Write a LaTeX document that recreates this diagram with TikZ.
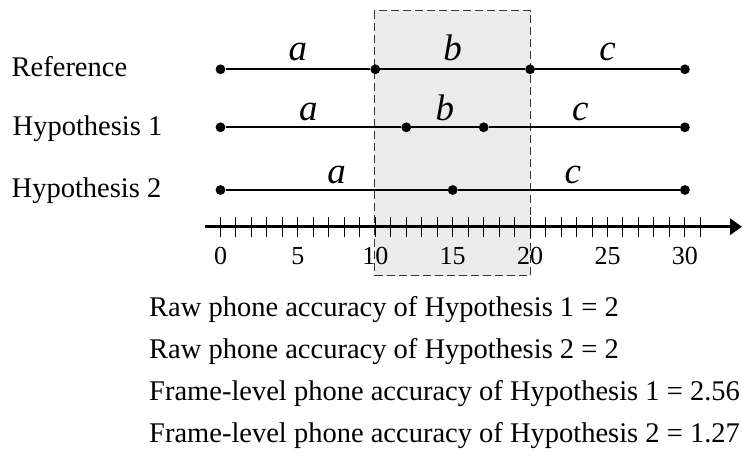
\documentclass[tikz,border=0pt]{standalone}
\usepackage{fontspec}
\setmainfont{Liberation Serif}
\usetikzlibrary{arrows.meta,calc}
\begin{document}
\begin{tikzpicture}[x=1pt,y=-1pt,
  dot/.style={circle,fill=black,inner sep=0pt,minimum size=9.8pt},
  seg/.style={line width=2.2pt},
  rowlab/.style={anchor=base west,inner sep=0pt,font=\fontsize{28.5}{34}\selectfont},
  seglab/.style={anchor=base,inner sep=0pt,font=\fontsize{37}{44}\selectfont\itshape},
  ticklab/.style={anchor=base,inner sep=0pt,font=\fontsize{26}{31}\selectfont},
  acc/.style={anchor=base west,inner sep=0pt,font=\fontsize{28.5}{34}\selectfont},
  tickmark/.style={line width=1pt},
  axisline/.style={line width=3pt,-{Triangle[length=12pt,width=16pt]}},
  region/.style={draw=black!80,fill=black!8,dash pattern=on 8pt off 4pt,line width=1.1pt}
]
\useasboundingbox (0,0) rectangle (742,463);
% shaded region
\node[region,minimum width=155.5pt,minimum height=265pt,inner sep=0pt,anchor=north west] (box) at (374,10) {};
% row labels
\node[rowlab] (lref) at (11.5,76.5) {Reference};
\node[rowlab] (lh1) at (12.5,135.5) {Hypothesis 1};
\node[rowlab] (lh2) at (11.5,197) {Hypothesis 2};
% reference row
\node[dot] (r0) at ({220.5+15.48*0},69.3) {};
\node[dot] (r1) at ({220.5+15.48*10},69.3) {};
\node[dot] (r2) at ({220.5+15.48*20},69.3) {};
\node[dot] (r3) at ({220.5+15.48*30},69.3) {};
\draw[seg] (r0) -- (r1) -- (r2) -- (r3);
% hypothesis 1 row
\node[dot] (h0) at ({220.5+15.48*0},127.3) {};
\node[dot] (h1) at ({220.5+15.48*12},127.3) {};
\node[dot] (h2) at ({220.5+15.48*17},127.3) {};
\node[dot] (h3) at ({220.5+15.48*30},127.3) {};
\draw[seg] (h0) -- (h1) -- (h2) -- (h3);
% hypothesis 2 row
\node[dot] (g0) at ({220.5+15.48*0},190) {};
\node[dot] (g1) at ({220.5+15.48*15},190) {};
\node[dot] (g2) at ({220.5+15.48*30},190) {};
\draw[seg] (g0) -- (g1) -- (g2);
% segment labels
\node[seglab] (ra) at ($(r0)!.5!(r1)+(0,-9)$) {a};
\node[seglab] (rb) at ($(r1)!.5!(r2)+(0,-9)$) {b};
\node[seglab] (rc) at ($(r2)!.5!(r3)+(0,-9)$) {c};
\node[seglab] (ha) at ($(h0)!.5!(h1)+(-5,-7)$) {a};
\node[seglab] (hb) at ($(h1)!.5!(h2)+(0,-7)$) {b};
\node[seglab] (hc) at ($(h2)!.5!(h3)+(-4,-7)$) {c};
\node[seglab] (ga) at ($(g0)!.5!(g1)+(0,-7)$) {a};
\node[seglab] (gc) at ($(g1)!.5!(g2)+(4,-7)$) {c};
% axis
\coordinate (ax0) at (205,226.7);
\coordinate (ax1) at (742,226.7);
\draw[axisline] (ax0) -- (ax1);
\foreach \i in {0,...,31} {
  \draw[tickmark] ({220.5+15.48*\i},217) -- ({220.5+15.48*\i},237);
}
\foreach \v in {0,5,...,30} {
  \node[ticklab] (t\v) at ({220.5+15.48*\v},264) {\v};
}
% accuracy texts
\node[acc] (acc1) at (149,316) {Raw phone accuracy of Hypothesis 1 = 2};
\node[acc] (acc2) at (149,358) {Raw phone accuracy of Hypothesis 2 = 2};
\node[acc] (acc3) at (149,400) {Frame-level phone accuracy of Hypothesis 1 = 2.56};
\node[acc] (acc4) at (149,442) {Frame-level phone accuracy of Hypothesis 2 = 1.27};
\end{tikzpicture}
\end{document}
